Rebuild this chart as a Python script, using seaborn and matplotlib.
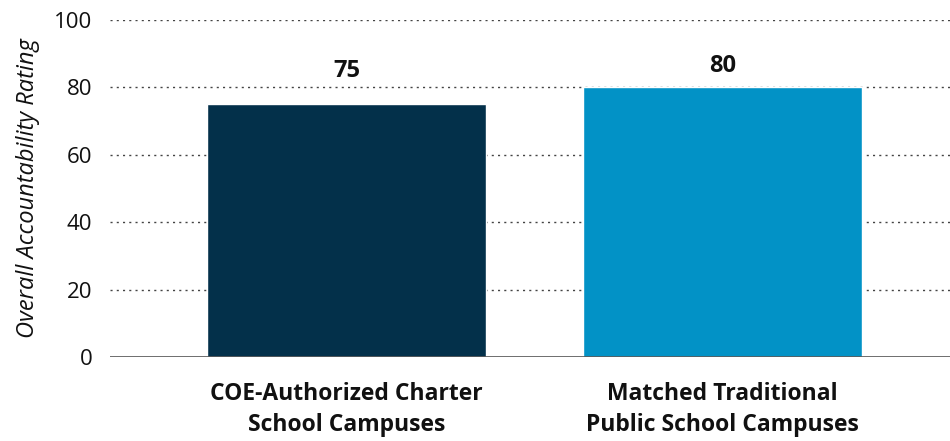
import numpy as np
import pandas as pd
import matplotlib
matplotlib.use("Agg")
import matplotlib.pyplot as plt
import seaborn as sns

# chart data
categories = ["COE-Authorized Charter\nSchool Campuses", "Matched Traditional\nPublic School Campuses"]
ratings = [75, 80]
bar_colors = ["#03304a", "#0292c6"]
y_ticks = [0, 20, 40, 60, 80, 100]

df = pd.DataFrame({"group": categories, "rating": ratings})

sns.set_style("white")
plt.rcParams["font.family"] = ["Open Sans", "DejaVu Sans"]

fig = plt.figure(figsize=(9.5, 4.41), dpi=100)
ax = fig.add_axes([0.116, 0.19, 0.884, 0.765])

sns.barplot(data=df, x="group", y="rating", hue="group", palette=bar_colors,
            width=0.742, legend=False, ax=ax, zorder=3, saturation=1)

ax.set_xlim(-0.629, 1.605)
ax.set_ylim(0, 100)
ax.set_yticks(y_ticks)
ax.set_yticklabels([str(t) for t in y_ticks], fontsize=16, color="#111111")
ax.tick_params(axis="y", length=0, pad=13)
ax.tick_params(axis="x", length=0, pad=18)
for lbl in ax.get_xticklabels():
    lbl.set_fontsize(16.5)
    lbl.set_fontweight("bold")
    lbl.set_color("#111111")
    lbl.set_linespacing(1.35)

# dotted gridlines
for t in y_ticks[1:]:
    ax.axhline(t, color="#444444", linestyle=(0, (1.5, 3)), linewidth=1.0, zorder=1)
ax.axhline(0, color="#555555", linewidth=1.2, zorder=4)

for s in ["top", "right", "left", "bottom"]:
    ax.spines[s].set_visible(False)

ax.set_xlabel("")
ax.set_ylabel("Overall Accountability Rating", fontsize=17, style="italic",
              color="#111111", labelpad=10)

# value labels
offsets = [15, 7]
for i, (v, off) in enumerate(zip(ratings, offsets)):
    ax.annotate(str(v), (i, v), xytext=(0, off), textcoords="offset points",
                ha="center", va="bottom", fontsize=17, fontweight="bold", color="#111111")

fig.savefig("out.png", dpi=100)
